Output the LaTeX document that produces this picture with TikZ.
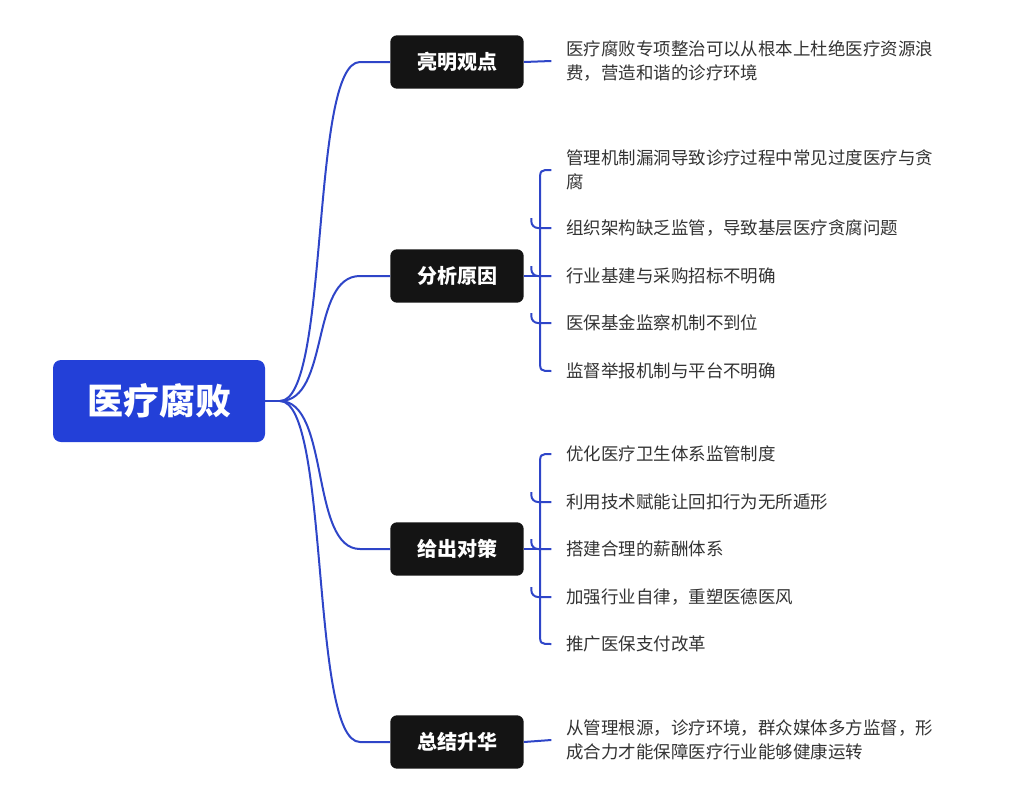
\documentclass[tikz,border=0pt]{standalone}
\usepackage{fontspec}
\setmainfont{Noto Sans CJK SC}
\begin{document}
\begin{tikzpicture}[x=0.75pt,y=-0.75pt,
  root/.style={fill=rootblue,rounded corners=6pt,text=white,font=\fontsize{27pt}{30pt}\selectfont\bfseries,minimum width=159pt,minimum height=61.5pt,inner sep=0pt},
  br/.style={fill=black!92,rounded corners=5pt,text=white,font=\fontsize{15pt}{18pt}\selectfont\bfseries,minimum width=100pt,minimum height=40pt,inner sep=0pt},
  leaf/.style={anchor=west,text=black!80,font=\fontsize{13.1pt}{18pt}\selectfont,inner sep=0pt,align=left},
  ln/.style={draw=lineblue,line width=1.5pt}]
\definecolor{rootblue}{HTML}{2340D8}
\definecolor{lineblue}{HTML}{2E45C8}
\useasboundingbox (0,0) rectangle (1021,810);
\node[root] (R) at (159,401) {医疗腐败};
\coordinate (r) at (280,401);
\node[br] (A) at (457,62) {亮明观点};
\node[br] (B) at (457,276) {分析原因};
\node[br] (C) at (457,549) {给出对策};
\node[br] (D) at (457,742) {总结升华};
\draw[ln] (R.east) -- (r);
\foreach \n/\y in {A/62,B/276,C/549,D/742}{
  \draw[ln] (r) .. controls (330,401) and (310,\y) .. (360,\y) -- (\n.west);
}
% leaves
\node[leaf] (a1) at (566,61) {医疗腐败专项整治可以从根本上杜绝医疗资源浪\\费，营造和谐的诊疗环境};
\draw[ln] (A.east) -- ([xshift=-11]a1.west);
\node[leaf] (b1) at (566,170) {管理机制漏洞导致诊疗过程中常见过度医疗与贪\\腐};
\node[leaf] (b2) at (566,228) {组织架构缺乏监管，导致基层医疗贪腐问题};
\node[leaf] (b3) at (566,276) {行业基建与采购招标不明确};
\node[leaf] (b4) at (566,323) {医保基金监察机制不到位};
\node[leaf] (b5) at (566,371) {监督举报机制与平台不明确};
\coordinate (bj) at (540,276);
\draw[ln] (B.east) -- (bj);
\draw[ln] ([xshift=-11]b1.west) .. controls (540,170) .. (540,182) -- (540,359) .. controls (540,371) .. ([xshift=-11]b5.west);
\foreach \l in {b2,b3,b4}{\draw[ln,rounded corners=5pt] ([xshift=-26,yshift=7.5]\l.west) -- ([xshift=-26]\l.west) -- ([xshift=-11]\l.west);}
\node[leaf] (c1) at (566,454) {优化医疗卫生体系监管制度};
\node[leaf] (c2) at (566,502) {利用技术赋能让回扣行为无所遁形};
\node[leaf] (c3) at (566,549) {搭建合理的薪酬体系};
\node[leaf] (c4) at (566,597) {加强行业自律，重塑医德医风};
\node[leaf] (c5) at (566,644) {推广医保支付改革};
\coordinate (cj) at (540,549);
\draw[ln] (C.east) -- (cj);
\draw[ln] ([xshift=-11]c1.west) .. controls (540,454) .. (540,466) -- (540,632) .. controls (540,644) .. ([xshift=-11]c5.west);
\foreach \l in {c2,c3,c4}{\draw[ln,rounded corners=5pt] ([xshift=-26,yshift=7.5]\l.west) -- ([xshift=-26]\l.west) -- ([xshift=-11]\l.west);}
\node[leaf] (d1) at (566,740) {从管理根源，诊疗环境，群众媒体多方监督，形\\成合力才能保障医疗行业能够健康运转};
\draw[ln] (D.east) -- ([xshift=-11]d1.west);
\end{tikzpicture}
\end{document}
